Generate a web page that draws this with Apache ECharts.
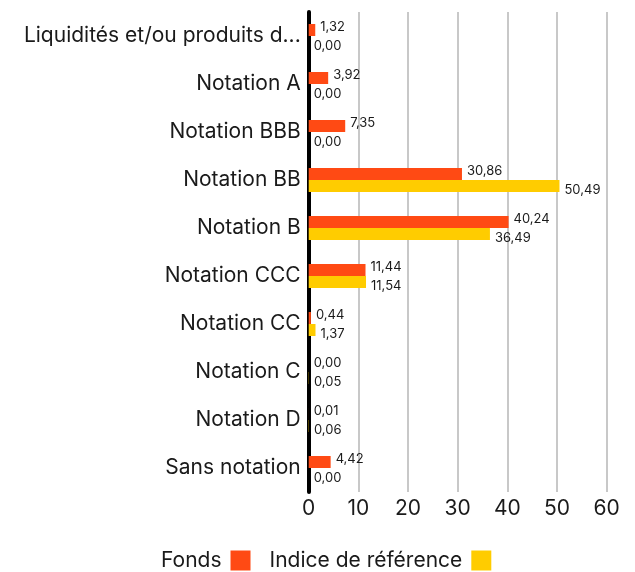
<!DOCTYPE html>
<html><head><meta charset="utf-8">
<script src="https://cdn.jsdelivr.net/npm/echarts@6/dist/echarts.min.js"></script>
<style>html,body{margin:0;padding:0;background:#fff}#c{width:635px;height:572px}</style>
</head><body><div id="c"></div>
<script>
const categories = ["Liquidités et/ou produits d...", "Notation A", "Notation BBB", "Notation BB", "Notation B", "Notation CCC", "Notation CC", "Notation C", "Notation D", "Sans notation"];
const fondsValues = [1.32, 3.92, 7.35, 30.86, 40.24, 11.44, 0.44, 0.00, 0.01, 4.42];
const indiceValues = [0.00, 0.00, 0.00, 50.49, 36.49, 11.54, 1.37, 0.05, 0.06, 0.00];
const xTicks = [0, 10, 20, 30, 40, 50, 60];
const seriesNames = ["Fonds", "Indice de référence"];

const FONT = "Inter";
const fmt = p => p.value.toFixed(2).replace('.', ',');
const chart = echarts.init(document.getElementById('c'), null, {renderer: 'canvas'});
chart.setOption({
  animation: false,
  textStyle: {fontFamily: FONT},
  grid: {left: 308.7, right: 28.3, top: 12, bottom: 80, containLabel: false},
  legend: {
    bottom: 1, left: 161, align: 'right', padding: 0,
    itemWidth: 20, itemHeight: 20, itemGap: 19,
    icon: 'rect',
    textStyle: {fontFamily: FONT, fontSize: 21, color: '#1a1a1a', padding: [0, 4, 0, 0]},
    data: seriesNames
  },
  xAxis: {
    type: 'value', min: xTicks[0], max: xTicks[xTicks.length - 1], interval: 10,
    axisLine: {show: false}, axisTick: {show: false},
    axisLabel: {fontFamily: FONT, fontSize: 21, color: '#1a1a1a', margin: 6},
    splitLine: {show: true, lineStyle: {color: '#c8c8c8', width: 2}}
  },
  yAxis: {
    type: 'category', inverse: true, data: categories,
    axisLine: {show: true, lineStyle: {color: '#000', width: 4}},
    axisTick: {show: false},
    axisLabel: {fontFamily: FONT, fontSize: 21, color: '#1a1a1a', margin: 8}
  },
  series: [
    {
      name: seriesNames[0], type: 'bar', data: fondsValues,
      barWidth: 12, barGap: '0%',
      itemStyle: {color: '#FF4A14'},
      label: {show: true, position: 'right', distance: 5, offset: [0, -3], formatter: fmt,
        fontFamily: FONT, fontSize: 13, color: '#1a1a1a'}
    },
    {
      name: seriesNames[1], type: 'bar', data: indiceValues,
      barWidth: 12, barGap: '0%',
      itemStyle: {color: '#FFCC00'},
      label: {show: true, position: 'right', distance: 5, offset: [0, 4], formatter: fmt,
        fontFamily: FONT, fontSize: 13, color: '#1a1a1a'}
    }
  ]
});
</script></body></html>
